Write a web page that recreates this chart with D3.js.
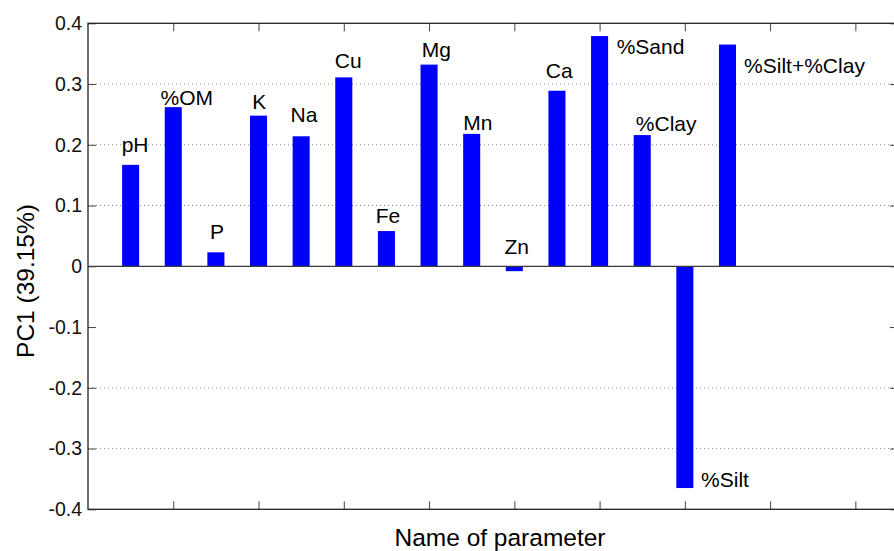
<!DOCTYPE html>
<html>
<head>
<meta charset="utf-8">
<script src="https://cdn.jsdelivr.net/npm/d3@7"></script>
<style>
  body { margin: 0; background: #fff; }
  svg { display: block; font-family: "Liberation Sans", Arial, Helvetica, sans-serif; }
</style>
</head>
<body>
<div id="chart"></div>
<script>
// Data
const parameters = ["pH", "%OM", "P", "K", "Na", "Cu", "Fe", "Mg", "Mn", "Zn", "Ca", "%Sand", "%Clay", "%Silt", "%Silt+%Clay"];
const pc1 = [0.167, 0.262, 0.023, 0.248, 0.214, 0.311, 0.058, 0.332, 0.218, -0.008, 0.289, 0.379, 0.216, -0.365, 0.365];

// where each name was placed on the plot (data units, text starts there)
const labelAtX = [0.79, 1.70, 2.86, 3.85, 4.75, 5.79, 6.75, 7.83, 8.80, 9.77, 10.74, 12.40, 12.85, 14.38, 15.39];
const labelAtY = [0.188, 0.266, 0.045, 0.259, 0.238, 0.327, 0.072, 0.344, 0.225, 0.020, 0.310, 0.349, 0.223, -0.363, 0.318];

const yTicks = [-0.4, -0.3, -0.2, -0.1, 0, 0.1, 0.2, 0.3, 0.4];
const yTickLabels = ["-0.4", "-0.3", "-0.2", "-0.1", "0", "0.1", "0.2", "0.3", "0.4"];
const gridAt = [-0.3, -0.2, 0.1, 0.2, 0.3];
const xTicks = [2, 4, 6, 8, 10, 12, 14, 16, 18];

// Space
const W = 894, H = 551;
const margin = { top: 23.3, left: 88, right: -4, bottom: 41.7 };
const width = W - margin.left - margin.right,
      height = H - margin.top - margin.bottom;

const svg = d3.select("#chart")
    .append("svg")
    .attr("width", W)
    .attr("height", H);

const g = svg.append("g")
    .attr("transform", `translate(${margin.left},${margin.top})`);

const x = d3.scaleLinear().domain([0, 19]).range([0, width]);
const y = d3.scaleLinear().domain([-0.4, 0.4]).range([height, 0]);
const barW = x(0.4) - x(0);

// grid
g.selectAll(".grid")
    .data(gridAt)
    .join("line")
    .attr("class", "grid")
    .attr("x1", 0)
    .attr("x2", width)
    .attr("y1", d => y(d))
    .attr("y2", d => y(d))
    .style("stroke", "#8a8a8a")
    .style("stroke-width", 1)
    .style("stroke-dasharray", "1,3");

// bars
g.selectAll(".bar")
    .data(pc1)
    .join("rect")
    .attr("class", "bar")
    .attr("x", (d, i) => x(i + 1) - barW / 2)
    .attr("y", d => y(Math.max(0, d)))
    .attr("width", barW)
    .attr("height", d => Math.abs(y(d) - y(0)))
    .attr("fill", "#0000ff");

// baseline at zero
g.append("line")
    .attr("x1", 0)
    .attr("x2", width)
    .attr("y1", y(0))
    .attr("y2", y(0))
    .style("stroke", "#3a3a3a")
    .style("stroke-width", 1.3);

// axes, ticks pointing inward on all four sides
const yLabel = d => yTickLabels[yTicks.indexOf(d)];

g.append("g")
    .call(d3.axisLeft(y).tickValues(yTicks).tickSizeInner(-8).tickSizeOuter(0).tickPadding(6).tickFormat(yLabel))
    .call(a => a.select(".domain").remove())
    .call(a => a.selectAll("line").style("stroke", "#444"))
    .call(a => a.selectAll("text")
        .style("font-size", "19.5px")
        .style("font-family", "'Liberation Sans', Arial, sans-serif")
        .style("fill", "#111"));

g.append("g")
    .attr("transform", `translate(${width},0)`)
    .call(d3.axisRight(y).tickValues(yTicks).tickSizeInner(-8).tickSizeOuter(0).tickFormat(""))
    .call(a => a.select(".domain").remove())
    .call(a => a.selectAll("line").style("stroke", "#444"));

g.append("g")
    .attr("transform", `translate(0,${height})`)
    .call(d3.axisBottom(x).tickValues(xTicks).tickSizeInner(-8).tickSizeOuter(0).tickFormat(""))
    .call(a => a.select(".domain").remove())
    .call(a => a.selectAll("line").style("stroke", "#444"));

g.append("g")
    .call(d3.axisTop(x).tickValues(xTicks).tickSizeInner(-8).tickSizeOuter(0).tickFormat(""))
    .call(a => a.select(".domain").remove())
    .call(a => a.selectAll("line").style("stroke", "#444"));

// frame
g.append("rect")
    .attr("width", width)
    .attr("height", height)
    .attr("fill", "none")
    .style("stroke", "#222")
    .style("stroke-width", 1.3);

// names on the bars
g.selectAll(".name")
    .data(parameters)
    .join("text")
    .attr("class", "name")
    .attr("x", (d, i) => x(labelAtX[i]))
    .attr("y", (d, i) => y(labelAtY[i]))
    .style("font-size", "21px")
    .style("fill", "#000")
    .text(d => d);

// axis titles
svg.append("text")
    .attr("text-anchor", "middle")
    .attr("x", 500)
    .attr("y", 546)
    .style("font-size", "24.5px")
    .style("fill", "#000")
    .text("Name of parameter");

svg.append("text")
    .attr("text-anchor", "middle")
    .attr("transform", "rotate(-90)")
    .attr("x", -281)
    .attr("y", 34)
    .style("font-size", "24.5px")
    .style("fill", "#000")
    .text("PC1 (39.15%)");
</script>
</body>
</html>
